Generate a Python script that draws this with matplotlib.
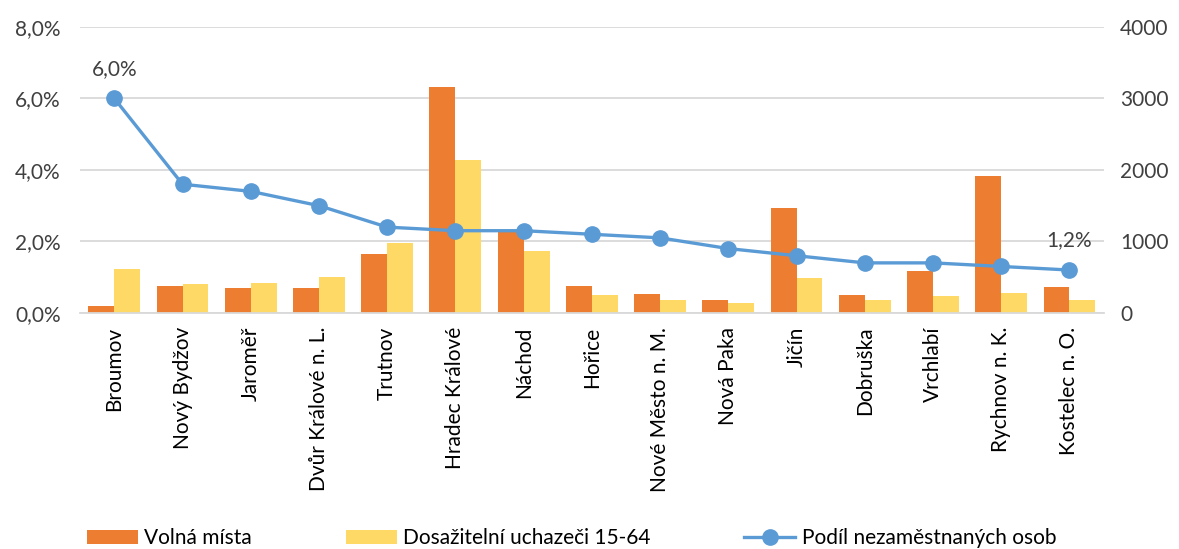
import matplotlib
matplotlib.use("Agg")
import matplotlib.pyplot as plt
import numpy as np
from matplotlib.ticker import FuncFormatter

plt.rcParams['font.family'] = ['Lato', 'DejaVu Sans']

categories = ["Broumov", "Nový Bydžov", "Jaroměř", "Dvůr Králové n. L.", "Trutnov",
              "Hradec Králové", "Náchod", "Hořice", "Nové Město n. M.", "Nová Paka",
              "Jičín", "Dobruška", "Vrchlabí", "Rychnov n. K.", "Kostelec n. O."]
volna_mista = [95, 373, 350, 354, 820, 3156, 1130, 373, 261, 186, 1473, 252, 583, 1916, 364]
uchazeci = [611, 401, 420, 500, 979, 2135, 862, 247, 177, 145, 485, 177, 242, 275, 177]
podil = [6.0, 3.6, 3.4, 3.0, 2.4, 2.3, 2.3, 2.2, 2.1, 1.8, 1.6, 1.4, 1.4, 1.3, 1.2]

c_orange = '#ED7D31'
c_yellow = '#FFD966'
c_blue = '#5B9BD5'
txt = '#404040'

fig = plt.figure(figsize=(11.79, 5.49), dpi=100)
ax2 = fig.add_axes([0.068, 0.430, 0.868, 0.521])
ax = ax2.twinx()

x = np.arange(len(categories))
w = 0.38
b1 = ax2.bar(x - w/2, volna_mista, w, color=c_orange, label="Volná místa", zorder=2)
b2 = ax2.bar(x + w/2, uchazeci, w, color=c_yellow, label="Dosažitelní uchazeči 15-64", zorder=2)
ln, = ax.plot(x, podil, color=c_blue, lw=2.4, marker='o', ms=11,
              label="Podíl nezaměstnaných osob", zorder=3)

ax.set_zorder(ax2.get_zorder() + 1)
ax.patch.set_visible(False)

ax2.set_xlim(-0.5, len(categories) - 0.5)
ax2.set_ylim(0, 4000)
ax2.set_yticks([0, 1000, 2000, 3000, 4000])
ax.set_ylim(0, 8)
ax.set_yticks([0, 2, 4, 6, 8])
ax.yaxis.set_major_formatter(FuncFormatter(lambda v, p: f"{v:.1f}%".replace('.', ',')))

# swap sides: percent on left, counts on right
ax.yaxis.tick_left()
ax2.yaxis.tick_right()

ax2.grid(axis='y', color='#D9D9D9', lw=1.3, zorder=0)
ax2.set_axisbelow(True)

for a in (ax, ax2):
    for s in a.spines.values():
        s.set_visible(False)
    a.tick_params(length=0, labelsize=15, labelcolor=txt)
ax2.spines['bottom'].set_visible(True)
ax2.spines['bottom'].set_color('#D9D9D9')
ax2.spines['bottom'].set_linewidth(1.3)
ax.tick_params(axis='y', pad=14)
ax2.tick_params(axis='y', pad=12)

ax2.set_xticks(x)
ax2.set_xticklabels(categories, rotation=90, fontsize=15, color='black')
ax2.tick_params(axis='x', pad=10, labelcolor='black')

for i in (0, len(podil) - 1):
    ax.annotate(f"{podil[i]:.1f}%".replace('.', ','), (x[i], podil[i]),
                xytext=(0, 14), textcoords='offset points', ha='center', va='bottom',
                fontsize=15, color=txt)

fig.legend(handles=[b1, b2, ln], loc='center left', bbox_to_anchor=(0.0738, 0.020),
           ncol=3, frameon=False, fontsize=15, handlelength=2.45, handleheight=0.67,
           columnspacing=4.5, handletextpad=0.3, borderpad=0, borderaxespad=0)

fig.savefig("out.png", dpi=100)
